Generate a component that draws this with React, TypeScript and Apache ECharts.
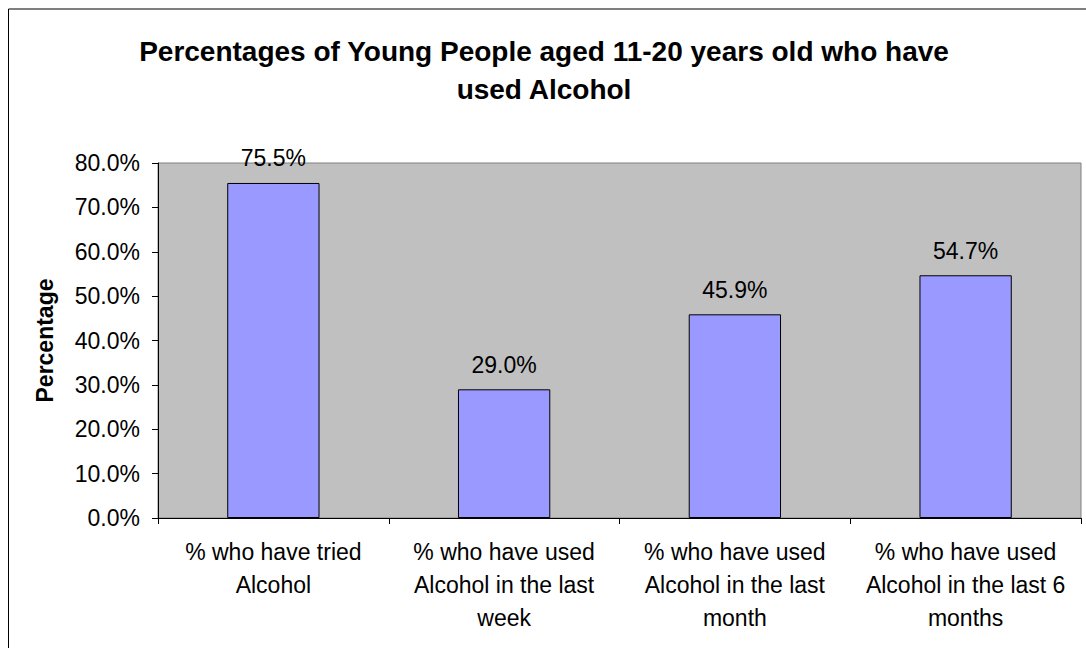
import React, { useEffect, useRef } from "react";
import * as echarts from "echarts";

const titleLines = ["Percentages of Young People aged 11-20 years old who have", "used Alcohol"];
const categories = [
  "% who have tried\nAlcohol",
  "% who have used\nAlcohol in the last\nweek",
  "% who have used\nAlcohol in the last\nmonth",
  "% who have used\nAlcohol in the last 6\nmonths",
];
const values = [75.5, 29.0, 45.9, 54.7];
const yMin = 0;
const yMax = 80;
const yInterval = 10;
const yAxisName = "Percentage";

const FONT = "'Liberation Sans', Arial, sans-serif";

export default function App() {
  const ref = useRef<HTMLDivElement>(null);
  useEffect(() => {
    if (!ref.current) return;
    const chart = echarts.init(ref.current, undefined, { renderer: "svg" });
    chart.setOption({
      animation: false,
      backgroundColor: "#ffffff",
      title: {
        text: titleLines.join("\n"),
        left: 531,
        top: 19,
        textAlign: "center",
        textStyle: {
          fontFamily: FONT,
          fontSize: 28,
          fontWeight: "bold",
          color: "#000",
          lineHeight: 38,
        },
      },
      graphic: [
        {
          type: "rect",
          shape: { x: 0.5, y: 1, width: 1200, height: 1200 },
          style: { fill: "none", stroke: "#000", lineWidth: 1 },
          silent: true,
          z: 100,
        },
      ],
      grid: {
        left: 150,
        top: 155,
        right: 5,
        bottom: 130,
        show: true,
        backgroundColor: "#C0C0C0",
        borderColor: "#808080",
        borderWidth: 1,
        containLabel: false,
      },
      xAxis: {
        type: "category",
        data: categories,
        axisLine: { show: true, lineStyle: { color: "#000", width: 1 } },
        axisTick: { show: true, interval: 0, length: 6, lineStyle: { color: "#000" } },
        axisLabel: {
          interval: 0,
          margin: 17,
          fontFamily: FONT,
          fontSize: 23,
          lineHeight: 33,
          color: "#000",
        },
        splitLine: { show: false },
      },
      yAxis: {
        type: "value",
        min: yMin,
        max: yMax,
        interval: yInterval,
        name: yAxisName,
        nameLocation: "middle",
        nameGap: 102,
        nameRotate: 90,
        nameTextStyle: {
          fontFamily: FONT,
          fontSize: 23,
          fontWeight: "bold",
          color: "#000",
        },
        axisLine: { show: true, lineStyle: { color: "#000", width: 1 } },
        axisTick: { show: true, length: 6, lineStyle: { color: "#000" } },
        axisLabel: {
          margin: 18,
          fontFamily: FONT,
          fontSize: 23,
          color: "#000",
          formatter: (v: number) => `${v.toFixed(1)}%`,
        },
        splitLine: { show: false },
      },
      series: [
        {
          type: "bar",
          data: values,
          barWidth: "40%",
          itemStyle: { color: "#9999FF", borderColor: "#000", borderWidth: 1 },
          label: {
            show: true,
            position: "top",
            distance: 13,
            fontFamily: FONT,
            fontSize: 23,
            color: "#000",
            formatter: (p: any) => `${Number(p.value).toFixed(1)}%`,
          },
          z: 5,
        },
      ],
    });
    return () => chart.dispose();
  }, []);
  return (
    <div
      ref={ref}
      style={{ position: "fixed", left: 8, top: 8, width: 1078, height: 640 }}
    />
  );
}
